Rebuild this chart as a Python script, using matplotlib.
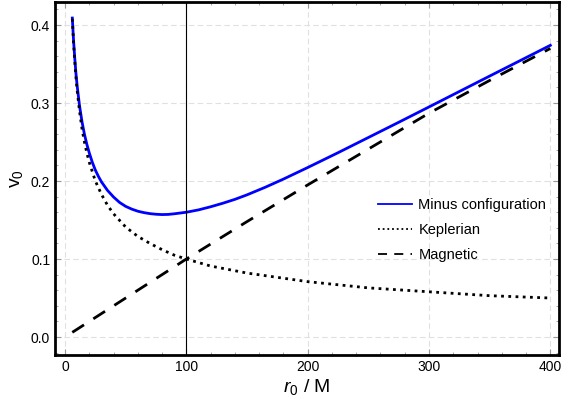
import matplotlib
matplotlib.use('Agg')
import matplotlib.pyplot as plt
from matplotlib.ticker import MultipleLocator

plt.rcParams['font.family'] = ['Liberation Sans', 'DejaVu Sans']
plt.rcParams['mathtext.fontset'] = 'custom'
plt.rcParams['mathtext.rm'] = 'Liberation Sans'
plt.rcParams['mathtext.it'] = 'Liberation Sans:italic'

# values
r_kep = [6, 7, 8, 9, 10, 12, 14, 16, 18, 20, 25, 30, 35, 40, 50, 60, 70, 80, 90, 100,
         120, 150, 200, 250, 300, 350, 400]
v_kep = [0.408, 0.378, 0.354, 0.333, 0.316, 0.289, 0.267, 0.250, 0.236, 0.224, 0.200,
         0.183, 0.169, 0.158, 0.141, 0.129, 0.120, 0.112, 0.105, 0.100,
         0.091, 0.082, 0.071, 0.063, 0.058, 0.053, 0.050]

r_minus = [6, 7, 8, 9, 10, 12, 14, 16, 18, 20, 22.5, 25, 27.5, 30, 35, 40, 45, 50, 55,
           60, 65, 70, 75, 80, 85, 90, 95, 100, 110, 120, 130, 140, 150, 165, 180,
           200, 225, 250, 275, 300, 325, 350, 375, 400]
v_minus = [0.409, 0.381, 0.358, 0.338, 0.322, 0.296, 0.276, 0.260, 0.247, 0.236, 0.224,
           0.214, 0.206, 0.199, 0.188, 0.1795, 0.1725, 0.1675, 0.164, 0.1613, 0.1595,
           0.1582, 0.1574, 0.157, 0.1572, 0.158, 0.159, 0.160, 0.163, 0.167, 0.1715,
           0.1765, 0.1823, 0.192, 0.2025, 0.2173, 0.2363, 0.2558, 0.2753, 0.295, 0.3148,
           0.3346, 0.3543, 0.374]

r_mag = [6, 50, 100, 150, 200, 250, 300, 350, 400]
v_mag = [0.006, 0.050, 0.100, 0.148, 0.195, 0.241, 0.287, 0.329, 0.370]

fig = plt.figure(figsize=(5.62, 4.08), dpi=100)
ax = fig.add_axes([0.098, 0.130, 0.897, 0.865])

ax.plot(r_minus, v_minus, color='#0000ff', lw=2, label='Minus configuration')
ax.plot(r_kep, v_kep, color='black', lw=2, linestyle=(0, (1, 1.6)), label='Keplerian')
ax.plot(r_mag, v_mag, color='black', lw=2, linestyle=(0, (5, 4)), label='Magnetic')
ax.axvline(100, color='black', lw=0.8)

ax.set_xlim(-8.2, 407.3)
ax.set_ylim(-0.023, 0.4295)
ax.xaxis.set_major_locator(MultipleLocator(100))
ax.xaxis.set_minor_locator(MultipleLocator(20))
ax.yaxis.set_major_locator(MultipleLocator(0.1))
ax.yaxis.set_minor_locator(MultipleLocator(0.02))
ax.yaxis.set_major_formatter(matplotlib.ticker.FormatStrFormatter('%.1f'))
ax.grid(True, which='major', color='#e0e0e0', linestyle=(0, (5, 3)), lw=0.8)

ax.tick_params(which='both', direction='in', top=True, right=True, color='#999999',
               labelsize=10)
ax.tick_params(which='major', length=4, width=0.8)
ax.tick_params(which='minor', length=2, width=0.6)
for s in ax.spines.values():
    s.set_linewidth(2)

ax.set_xlabel(r'$\mathit{r}_\mathregular{0}$ / M', fontsize=14, labelpad=2)
ax.set_ylabel(r'$\mathregular{v_0}$', fontsize=14, labelpad=4)

leg = ax.legend(loc='center left', bbox_to_anchor=(0.641, 0.354), frameon=False,
                fontsize=10.5, handlelength=2.3, handletextpad=0.45, labelspacing=0.75,
                borderpad=0, borderaxespad=0)
for ln in leg.get_lines():
    ln.set_linewidth(1.3)

fig.savefig('out.png', dpi=100)
